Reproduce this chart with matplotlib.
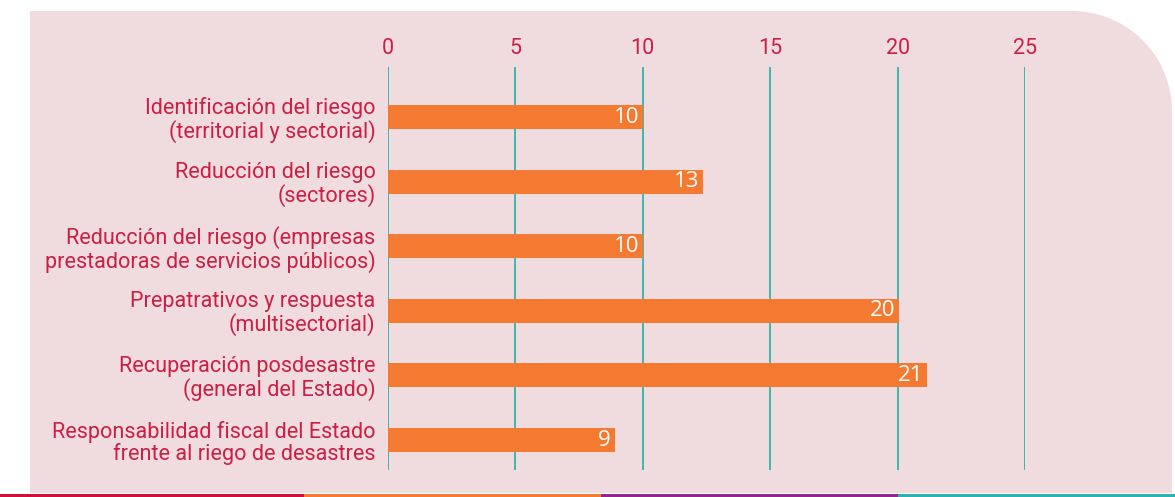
import numpy as np
import matplotlib.pyplot as plt
from matplotlib.path import Path
from matplotlib.patches import PathPatch, Rectangle
from matplotlib.transforms import Affine2D

# data
categories = [
    "Identificación del riesgo\n(territorial y sectorial)",
    "Reducción del riesgo\n(sectores)",
    "Reducción del riesgo (empresas\nprestadoras de servicios públicos)",
    "Prepatrativos y respuesta\n(multisectorial)",
    "Recuperación posdesastre\n(general del Estado)",
    "Responsabilidad fiscal del Estado\nfrente al riego de desastres",
]
bar_lengths = [10, 12.35, 10, 20.05, 21.15, 8.9]
value_labels = ["10", "13", "10", "20", "21", "9"]
x_ticks = [0, 5, 10, 15, 20, 25]

RED = "#cc1f45"
ORANGE = "#f47a32"
TEAL = "#3db6b0"
PINK = "#f0dcdf"
W, H = 1175, 497

fig = plt.figure(figsize=(W / 100, H / 100), dpi=100)
fig.patch.set_facecolor("white")

# pixel coords (origin top-left) -> figure coords
px = Affine2D().scale(1 / W, -1 / H).translate(0, 1) + fig.transFigure

# pink panel with rounded top-right corner
left, top, right, bottom, r = 30, 11, 1172, 493, 100
ang = np.linspace(-np.pi / 2, 0, 30)
arc = [(right - r + r * np.cos(a), top + r + r * np.sin(a)) for a in ang]
verts = [(left, bottom), (left, top)] + arc + [(right, bottom), (left, bottom)]
codes = [Path.MOVETO] + [Path.LINETO] * (len(verts) - 2) + [Path.CLOSEPOLY]
fig.patches.append(PathPatch(Path(verts, codes), facecolor=PINK, edgecolor="none",
                             transform=px, zorder=-10))

# bottom coloured strip
strip = [(0, 304, "#d0103a"), (304, 601, "#f47c30"), (601, 898, "#93278f"), (898, 1175, "#2ab3b1")]
for x0, x1, c in strip:
    fig.patches.append(Rectangle((x0, 494), x1 - x0, 3, facecolor=c, edgecolor="none",
                                 transform=px, zorder=-9))

ax = fig.add_axes([388 / W, 1 - 470 / H, (1025 - 388) / W, (470 - 67) / H])
ax.set_facecolor("none")

y = np.arange(len(categories))
ax.barh(y, bar_lengths, height=0.37, color=ORANGE, zorder=3)
for yi, length, lab in zip(y, bar_lengths, value_labels):
    ax.text(length - 0.15, yi, lab, ha="right", va="center", color="white",
            fontsize=16, family="Open Sans", zorder=4)

ax.set_xlim(0, 25)
ax.set_ylim(5 + 0.464, -0.774)
ax.set_xticks(x_ticks)
ax.xaxis.tick_top()
ax.tick_params(axis="x", length=0, pad=6, labelsize=15.5, labelcolor=RED)
for t in ax.get_xticklabels():
    t.set_family("Roboto")
ax.set_yticks(y)
ax.set_yticklabels(categories, fontsize=15.6, color=RED, family="Roboto",
                   linespacing=1.05)
ax.tick_params(axis="y", length=0, pad=9)
ax.grid(axis="x", color=TEAL, linewidth=1.4, zorder=1)
for s in ax.spines.values():
    s.set_visible(False)

fig.savefig("out.png", dpi=100)
